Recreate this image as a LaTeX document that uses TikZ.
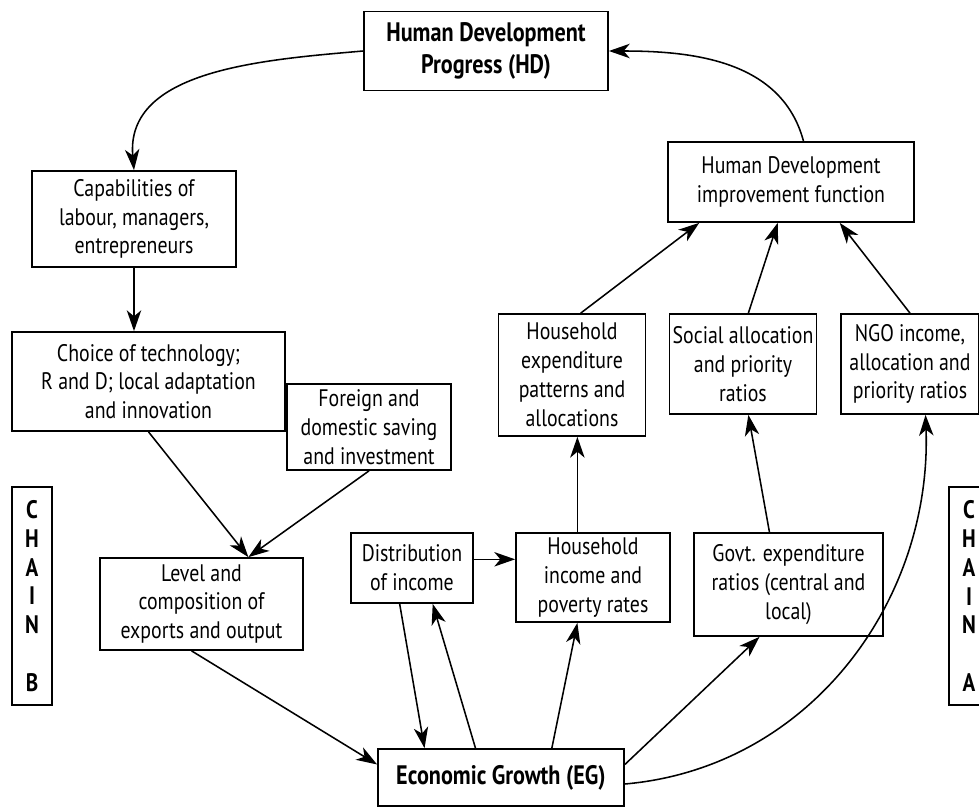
\documentclass[tikz,border=0pt]{standalone}
\usepackage{fontspec}
\setmainfont{PT Sans}[FakeStretch=0.83]
\usetikzlibrary{arrows.meta}

\tikzset{
  box/.style={draw, line width=1.2pt, align=center, inner sep=2pt,
    font=\fontsize{17}{20.5}\selectfont},
  boldbox/.style={box, font=\fontsize{19}{22.5}\selectfont\bfseries},
  chainbox/.style={box, font=\fontsize{18}{20.5}\selectfont\bfseries},
  link/.style={line width=1.1pt, -{Stealth[length=5.2mm, width=3.6mm, inset=1.5mm]}}
}

\begin{document}
\begin{tikzpicture}[x=0.025cm, y=-0.025cm]
\useasboundingbox (0,0) rectangle (979,809);
%top
\node[boldbox, minimum width=6.1cm, minimum height=1.975cm] (hd) at (486,51) {Human Development\\Progress (HD)};
\node[box, minimum width=6.15cm, minimum height=2cm] (hdimp) at (791,182) {Human Development\\improvement function};
%chain B side
\node[box, minimum width=5.1cm, minimum height=2.4cm] (cap) at (134,219) {Capabilities of\\labour, managers,\\entrepreneurs};
\node[box, minimum width=6.825cm, minimum height=2.475cm] (choice) at (148.5,381.5) {Choice of technology;\\R and D; local adaptation\\and innovation};
\node[box, minimum width=4.1cm, minimum height=2.15cm] (saving) at (369,427) {Foreign and\\domestic saving\\and investment};
\node[box, minimum width=5.075cm, minimum height=2.3cm] (level) at (201.5,604) {Level and\\composition of\\exports and output};
%chain A side
\node[box, minimum width=3.675cm, minimum height=3.05cm] (hhexp) at (572,375) {Household\\expenditure\\patterns and\\allocations};
\node[box, minimum width=3.675cm, minimum height=2.5cm] (social) at (743,364) {Social allocation\\and priority\\ratios};
\node[box, minimum width=3.45cm, minimum height=2.5cm] (ngo) at (910,364) {NGO income,\\allocation and\\priority ratios};
\node[box, minimum width=3.05cm, minimum height=1.75cm] (dist) at (412,568) {Distribution\\of income};
\node[box, minimum width=3.85cm, minimum height=2.225cm] (hhinc) at (593,577.5) {Household\\income and\\poverty rates};
\node[box, minimum width=4.725cm, minimum height=2.575cm] (govt) at (788.5,584.5) {Govt. expenditure\\ratios (central and\\local)};
%bottom
\node[boldbox, minimum width=6.15cm, minimum height=1.425cm] (eg) at (501,777.5) {Economic Growth (EG)};
%chain labels
\node[chainbox, minimum width=1cm, minimum height=5.45cm] (chainb) at (32,596) {C\\H\\A\\I\\N\\~\\B};
\node[chainbox, minimum width=1cm, minimum height=5.45cm] (chaina) at (969,596) {C\\H\\A\\I\\N\\~\\A}; %runs off the right edge

\coordinate (lvin) at (level.45);

%big loop HD -> chain B
\draw[link] (hd.west) to[out=185, in=95] (cap.north);
\draw[link] (hdimp.73) to[out=105, in=0] (hd.east);
%chain B
\draw[link] (cap.south) -- (cap.south |- choice.north);
\draw[link] (choice.south) -- (lvin);
\draw[link] (saving.south) -- (lvin);
\draw[link] (level.-102) -- (eg.174);
%chain A
\draw[link] (dist.-109) -- (eg.159);
\draw[link] (eg.131) -- (dist.-60);
\draw[link] (dist.8) -- (dist.8 -| hhinc.west);
\draw[link] (eg.30) -- (hhinc.-109);
\draw[link] (hhinc.109) -- (hhinc.109 |- hhexp.south);
\draw[link] (eg.6) -- (govt.-119);
\draw[link] (govt.110) -- (social.-84);
\draw[link] (eg.-3.5) to[out=5, in=-88] (ngo.-73); %long curve up the right side
\draw[link] (hhexp.82) -- (hdimp.-156);
\draw[link] (social.84) -- (hdimp.-108);
\draw[link] (ngo.north) -- (hdimp.-40);
\end{tikzpicture}
\end{document}
